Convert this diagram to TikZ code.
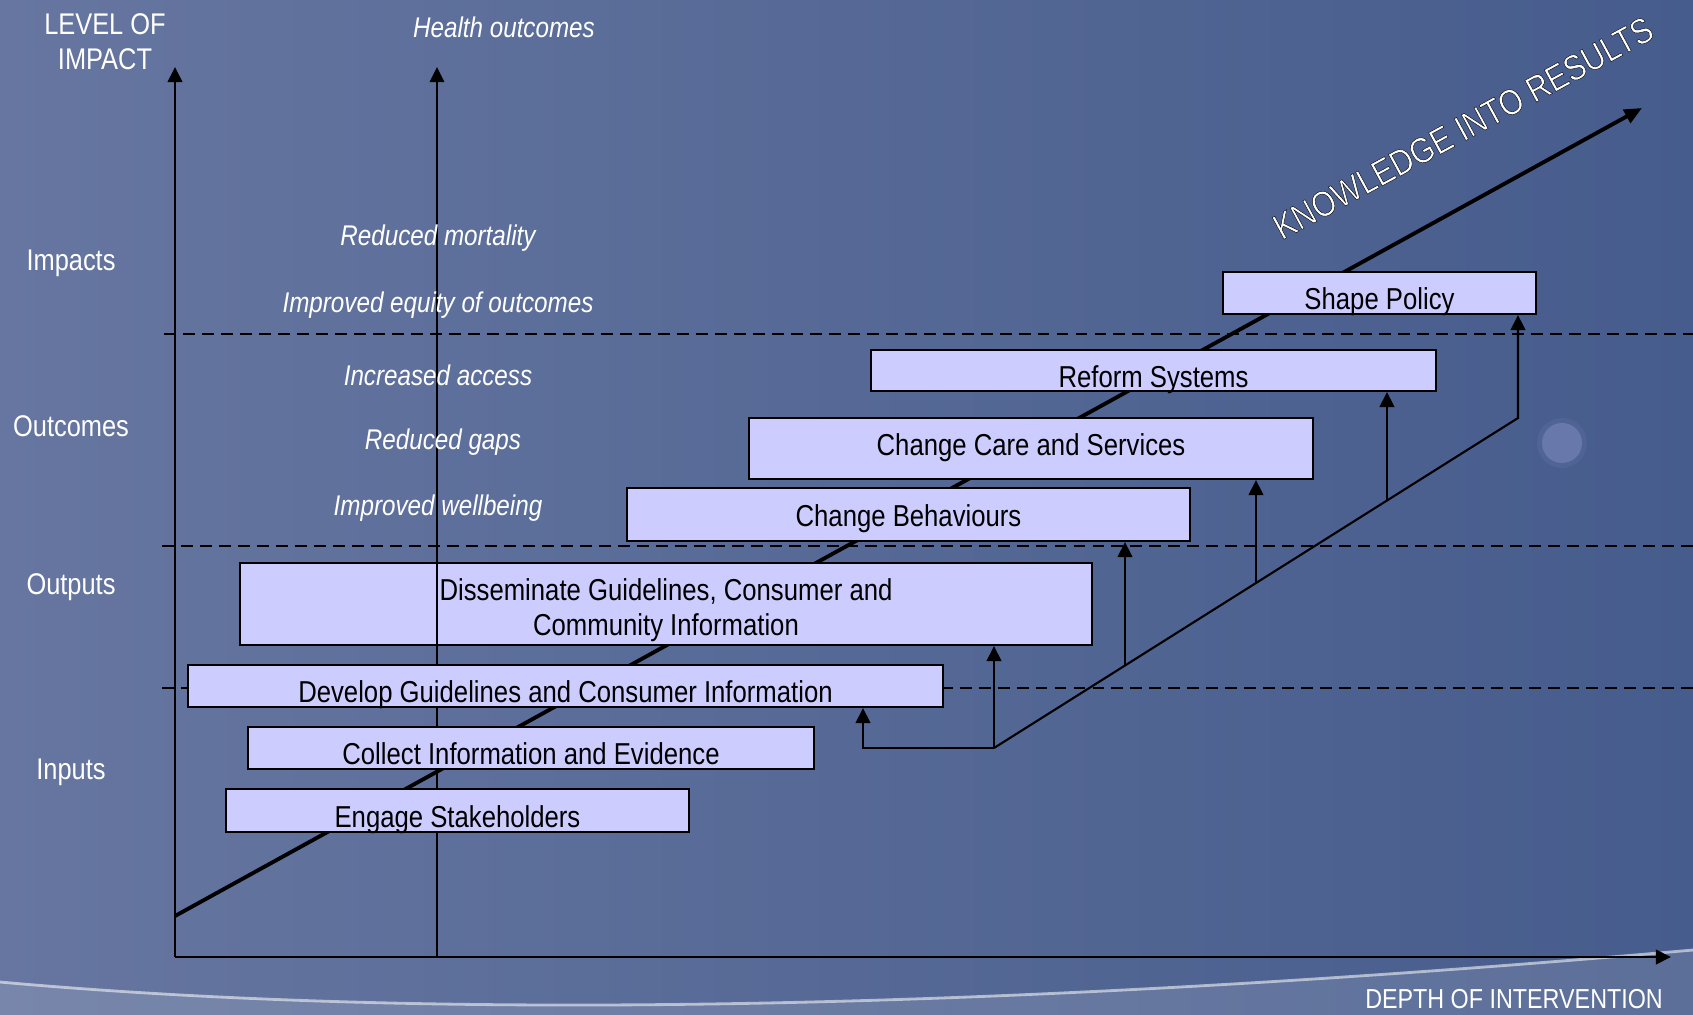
\documentclass[tikz,border=0pt]{standalone}
\usepackage{fontspec}
\setmainfont[FakeStretch=0.85]{Liberation Sans}
\usepackage{tikz}
\usetikzlibrary{arrows.meta,calc,positioning}

\definecolor{bgleft}{RGB}{102,118,160}
\definecolor{bgright}{RGB}{70,92,140}
\definecolor{boxfill}{RGB}{204,204,255}
\definecolor{glow}{RGB}{125,138,190}

% white letters with a thin dark outline
\newcommand{\outlined}[1]{\special{pdf:literal direct 2 Tr 0.12 w 0 G}#1\special{pdf:literal direct 0 Tr}}

\tikzset{
    stepbox/.style={draw=black, line width=0.6pt, fill=boxfill, inner sep=0.02cm, font=\fontsize{8.6}{10}\selectfont},
    lowtext/.style={text height=0.33cm, text depth=0pt},
    level/.style={text=white, font=\fontsize{8.5}{10}\selectfont, align=center},
    outcome/.style={text=white, font=\fontsize{8.1}{9.7}\selectfont\itshape},
    divider/.style={dash pattern=on 3.4pt off 2pt, line width=0.6pt},
    feed/.style={line width=0.6pt, -{Triangle[length=4.3pt,width=4.2pt]}},
    axis/.style={line width=0.8pt, -{Triangle[length=4.3pt,width=4.1pt]}},
}

\begin{document}
\begin{tikzpicture}[x=0.01cm, y=-0.01cm]
    % Background
    \useasboundingbox (0,0) rectangle (1693,1015);
    \shade[left color=bgleft, right color=bgright] (0,0) rectangle (1693,1015);
    \fill[white, opacity=0.12] (0,982) .. controls (400,1018) and (950,1015) .. (1693,950) -- (1693,1015) -- (0,1015) -- cycle;
    \draw[white, opacity=0.55, line width=0.8pt] (0,982) .. controls (400,1018) and (950,1015) .. (1693,950);
    \fill[glow, opacity=0.15] (1562,443) circle[radius=0.25cm];
    \fill[glow, opacity=0.55] (1562,443) circle[radius=0.2cm];

    % Axes
    \coordinate (origin) at (175,957);
    \coordinate (ytop) at (175,67);
    \coordinate (xend) at (1671,957);
    \coordinate (hbot) at (437,957);
    \coordinate (htop) at (437,67);
    \draw[axis] (origin) -- (ytop); % Level of impact
    \draw[axis] (origin) -- (xend); % Depth of intervention
    \draw[line width=0.5pt, -{Triangle[length=4.3pt,width=4.1pt]}] (hbot) -- (htop); % Health outcomes

    % Levels
    \coordinate (d1l) at (164,334);
    \coordinate (d2l) at (162,546);
    \coordinate (d3l) at (162,688);
    \draw[divider] (d1l) -- (d1l -| 1693,0);
    \draw[divider] (d2l) -- (d2l -| 1693,0);
    \draw[divider] (d3l) -- (d3l -| 1693,0);

    % Knowledge into results
    \coordinate (kstart) at (175,916);
    \coordinate (kend) at (1642,108);
    \draw[line width=1.1pt, -{Triangle[length=5pt,width=4.2pt]}] (kstart) -- (kend);
    \node[rotate=28.5, text=white, font=\fontsize{10.2}{12}\selectfont] (krlabel) at (1463,128) {\outlined{KNOWLEDGE INTO RESULTS}};

    % Steps
    \node[stepbox, lowtext, minimum width=3.13cm, minimum height=0.42cm] (shape) at (1379.5,293) {Shape Policy};
    \node[stepbox, lowtext, minimum width=5.65cm, minimum height=0.41cm] (reform) at (1153.5,370.5) {Reform Systems};
    \node[stepbox, text height=0.13cm, text depth=0pt, minimum width=5.64cm, minimum height=0.61cm] (care) at (1031,448.5) {Change Care and Services};
    \node[stepbox, text height=0.24cm, text depth=0pt, minimum width=5.63cm, minimum height=0.53cm] (behav) at (908.5,514.5) {Change Behaviours};
    \node[stepbox, align=center, minimum width=8.52cm, minimum height=0.82cm] (dissem) at (666,604) {\rule{0pt}{0.35cm}Disseminate Guidelines, Consumer and\\Community Information};
    \node[stepbox, lowtext, minimum width=7.55cm, minimum height=0.42cm] (develop) at (565.5,686) {Develop Guidelines and Consumer Information};
    \node[stepbox, lowtext, minimum width=5.66cm, minimum height=0.42cm] (collect) at (531,748) {Collect Information and Evidence};
    \node[stepbox, lowtext, minimum width=4.63cm, minimum height=0.43cm] (engage) at (457.5,810.5) {Engage Stakeholders};
    \draw[line width=0.5pt] (htop |- dissem.north) -- (htop |- dissem.south); % axis over box

    % Feedback arrows
    \coordinate (f0) at (863,748);
    \coordinate (f1) at (994,748);
    \coordinate (f2) at (1518,418);
    \path (f1) -- (f2) coordinate[pos=0.25] (g1) coordinate[pos=0.5] (g2) coordinate[pos=0.75] (g3);
    \draw[feed] (f1) -- (f0) -- (f0 |- develop.south);
    \draw[feed] (f1) -- (f1 |- dissem.south);
    \draw[feed] (f1) -- (f2) -- (f2 |- shape.south);
    \draw[feed] (g1) -- (g1 |- behav.south);
    \draw[feed] (g2) -- (g2 |- care.south);
    \draw[feed] (g3) -- (g3 |- reform.south);

    % Labels
    \node[level] (levlabel) at (105,42) {LEVEL OF\\IMPACT};
    \node[outcome] (health) at (504,27) {Health outcomes};
    \node[level] (impacts) at (71,263) {Impacts};
    \node[level] (outcomes) at (71,426) {Outcomes};
    \node[level] (outputs) at (71,587) {Outputs};
    \node[level] (inputs) at (71,772) {Inputs};
    \node[outcome] (mort) at (438,238) {Reduced mortality};
    \node[outcome] (equity) at (438,305) {Improved equity of outcomes};
    \node[outcome] (access) at (438,375) {Increased access};
    \node[outcome] (gaps) at (443,442) {Reduced gaps};
    \node[outcome] (wellb) at (438,508) {Improved wellbeing};
    \node[level, font=\fontsize{7.8}{9}\selectfont] (depth) at (1514,999) {DEPTH OF INTERVENTION};
\end{tikzpicture}
\end{document}
